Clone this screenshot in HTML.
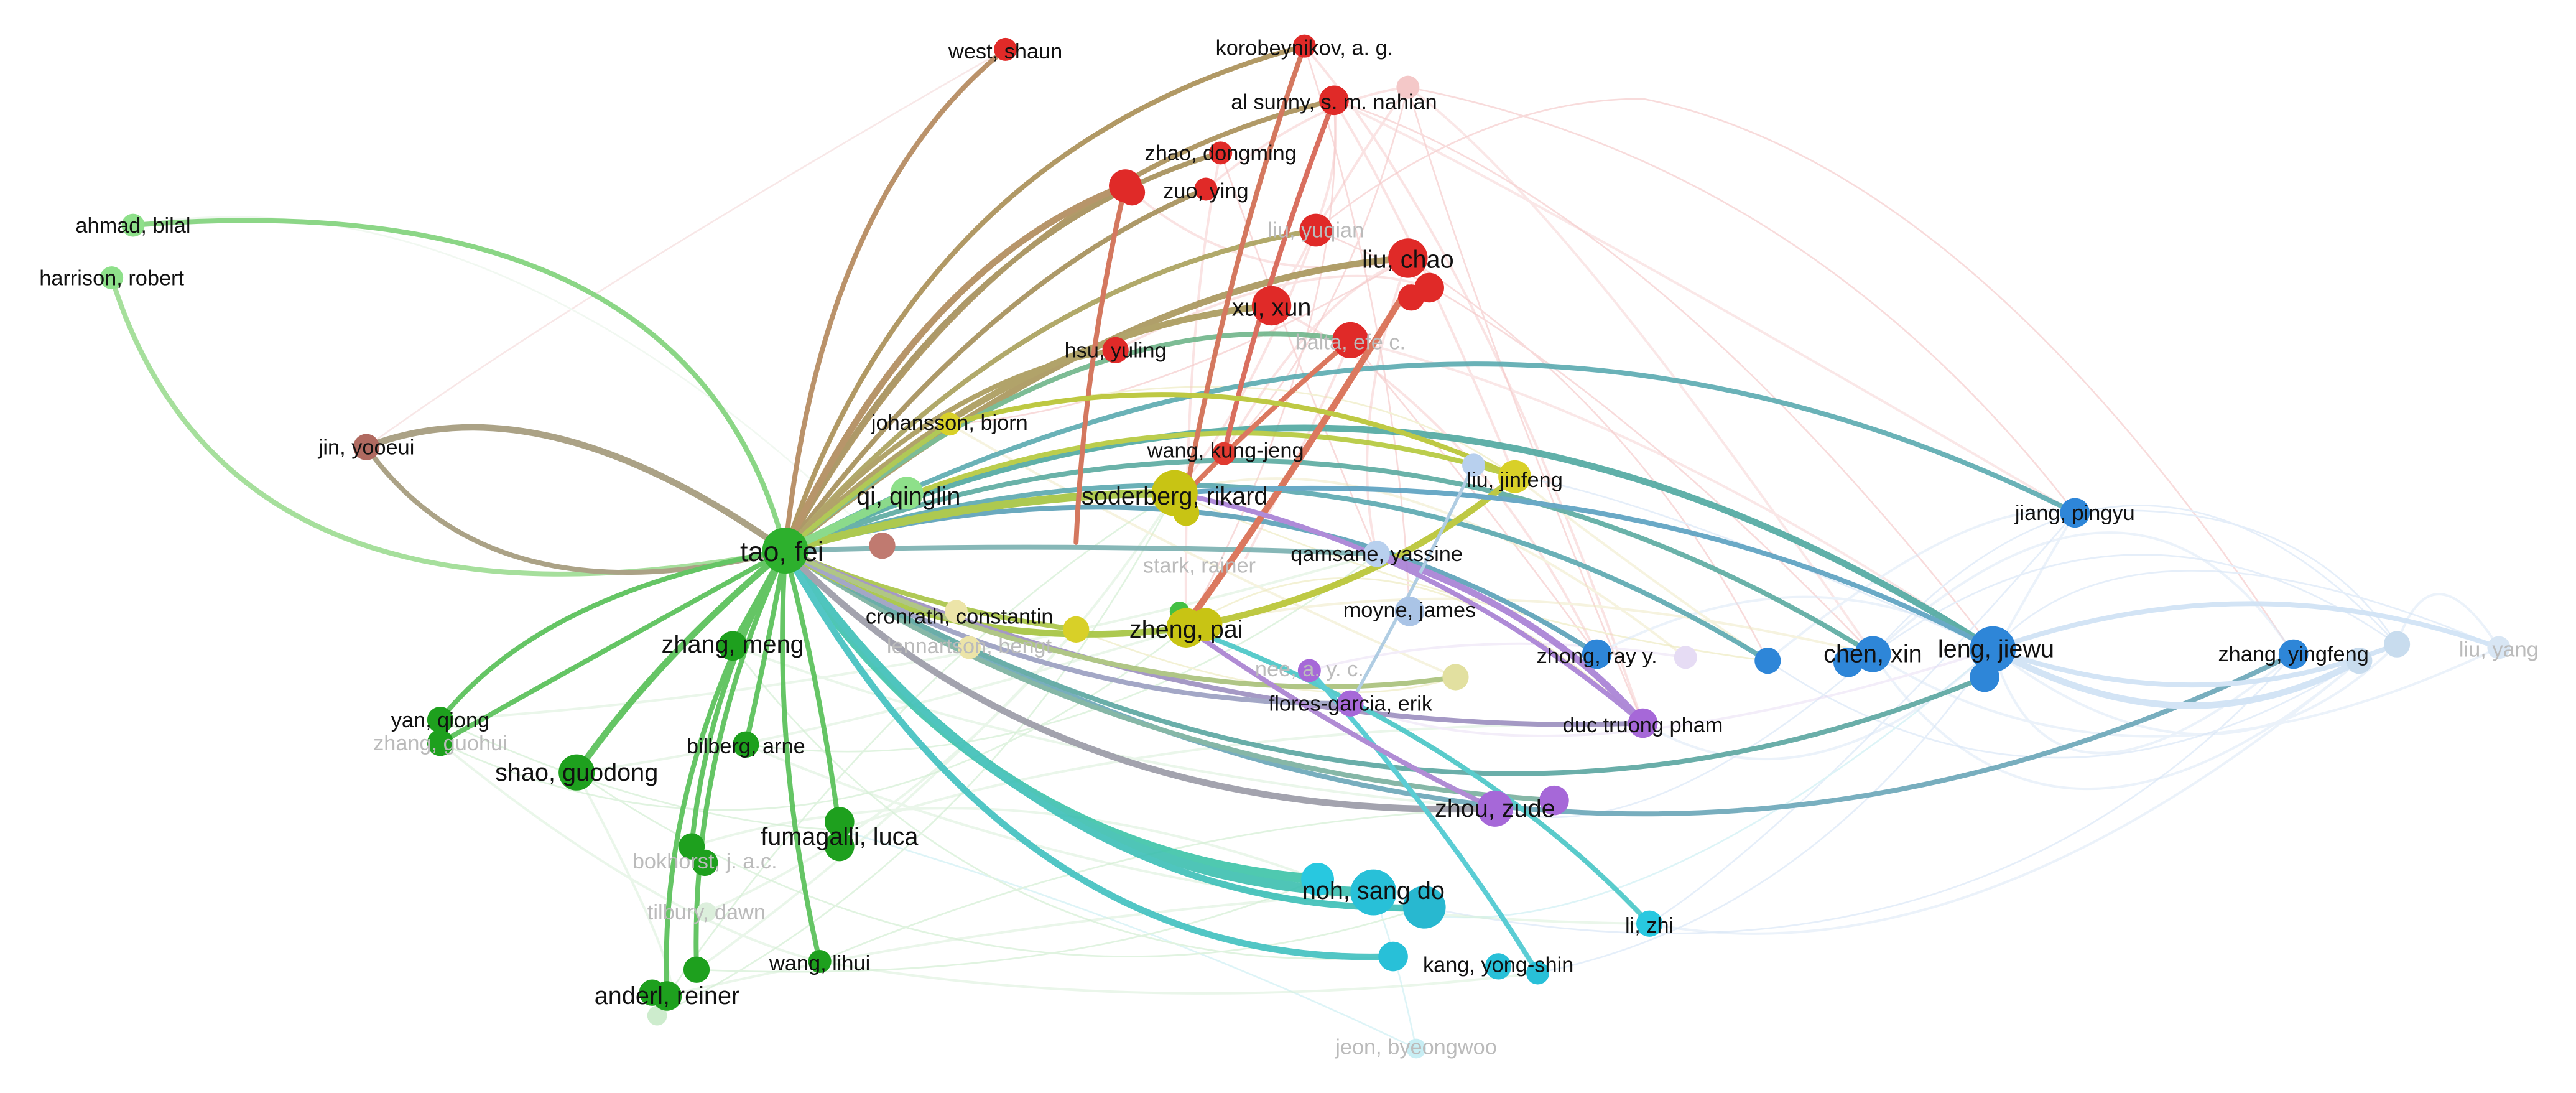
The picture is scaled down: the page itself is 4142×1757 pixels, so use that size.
<!DOCTYPE html>
<html><head><meta charset="utf-8"><style>
html,body{margin:0;padding:0;background:#fff;}
svg{display:block;}
text{font-family:"Liberation Sans","DejaVu Sans",sans-serif;text-anchor:middle;dominant-baseline:middle;fill:#111;}
.s{font-size:13px;}.m{font-size:15px;}.l{font-size:17px;}
.f{fill:#bbb;}
</style></head><body>
<svg width="4142" height="1757" viewBox="0 0 1568 665" xmlns="http://www.w3.org/2000/svg">
<g fill="none" stroke-width="1" opacity="0.6">
<path d="M857,53 Q900,200 1000,440" stroke="#f4c4c4"/>
<path d="M857,53 Q1100,100 1263,312" stroke="#f4c4c4"/>
<path d="M812,61 Q1000,120 1213,395" stroke="#f4c4c4"/>
<path d="M801,140 Q950,200 1140,398" stroke="#f4c4c4"/>
<path d="M857,157 Q1000,250 1076,402" stroke="#f4c4c4"/>
<path d="M794,28 Q850,200 858,372" stroke="#f4c4c4"/>
<path d="M812,61 Q820,200 722,382" stroke="#f4c4c4"/>
<path d="M743,93 Q800,250 838,337" stroke="#f4c4c4"/>
<path d="M857,53 Q820,200 745,276" stroke="#f4c4c4"/>
<path d="M822,207 Q900,300 972,398" stroke="#f4c4c4"/>
<path d="M857,157 Q700,250 578,258" stroke="#f4c4c4"/>
<path d="M801,140 Q900,60 1000,60 Q1200,100 1396,398" stroke="#f4c4c4"/>
<path d="M223,272 Q350,180 612,30" stroke="#f4d8d8"/>
<path d="M81,137 Q300,100 537,332" stroke="#e8f4e8"/>
<path d="M1213,395 Q1300,300 1521,394" stroke="#d4e4f6"/>
<path d="M1140,398 Q1300,280 1459,392" stroke="#d4e4f6"/>
<path d="M1076,402 Q1250,520 1436,402" stroke="#d4e4f6"/>
<path d="M1213,395 Q1100,560 936,592" stroke="#d4e4f6"/>
<path d="M1263,312 Q1100,500 1004,562" stroke="#d4e4f6"/>
<path d="M1396,398 Q1200,620 867,552" stroke="#d4e4f6"/>
<path d="M1459,392 Q1300,220 1140,398" stroke="#d4e4f6"/>
<path d="M1213,395 Q1000,300 922,290" stroke="#d4e4f6"/>
<path d="M1140,398 Q1000,520 910,492" stroke="#d4e4f6"/>
<path d="M1263,312 Q1400,300 1459,392" stroke="#d4e4f6"/>
<path d="M802,535 Q950,620 1213,395" stroke="#c8eef2"/>
<path d="M862,638 Q850,580 836,543" stroke="#c8eef2"/>
<path d="M862,638 Q700,560 511,505" stroke="#c8eef2"/>
<path d="M446,393 Q600,600 848,582" stroke="#cdeccd"/>
<path d="M351,470 Q600,640 867,552" stroke="#cdeccd"/>
<path d="M268,452 Q500,560 722,382" stroke="#cdeccd"/>
<path d="M400,618 Q600,520 715,300" stroke="#cdeccd"/>
<path d="M424,590 Q650,600 802,535" stroke="#cdeccd"/>
<path d="M454,453 Q650,480 838,337" stroke="#cdeccd"/>
<path d="M499,585 Q700,500 910,492" stroke="#cdeccd"/>
<path d="M406,606 Q550,400 715,300" stroke="#cdeccd"/>
<path d="M268,438 Q400,500 511,505" stroke="#cdeccd"/>
<path d="M722,382 Q850,300 1000,440" stroke="#ece8b8"/>
<path d="M715,300 Q900,380 1076,402" stroke="#ece8b8"/>
<path d="M578,258 Q800,200 922,290" stroke="#ece8b8"/>
<path d="M655,383 Q800,440 886,412" stroke="#ece8b8"/>
</g>
<g fill="none" stroke-width="1.5" opacity="0.5">
<path d="M812,61 Q860,140 922,290" stroke="#f6c8c8"/>
<path d="M794,28 Q900,150 1000,440" stroke="#f6c8c8"/>
<path d="M801,140 Q760,250 715,300" stroke="#f6c8c8"/>
<path d="M743,93 Q720,200 722,382" stroke="#f6c8c8"/>
<path d="M857,157 Q820,260 838,337" stroke="#f6c8c8"/>
<path d="M774,186 Q900,250 972,398" stroke="#f6c8c8"/>
<path d="M822,207 Q1000,250 1213,395" stroke="#f6d0d0"/>
<path d="M857,53 Q950,120 1140,398" stroke="#f6d0d0"/>
<path d="M812,61 Q900,100 1263,312" stroke="#f6d0d0"/>
<path d="M685,113 Q760,180 857,157" stroke="#f6c8c8"/>
<path d="M734,115 Q800,60 857,53" stroke="#f6c8c8"/>
<path d="M679,213 Q800,150 870,175" stroke="#f6c8c8"/>
<path d="M745,276 Q800,180 857,157" stroke="#f6c8c8"/>
<path d="M774,186 Q820,120 812,61" stroke="#f6c8c8"/>
<path d="M801,140 Q830,90 857,53" stroke="#f6c8c8"/>
<path d="M822,207 Q800,260 758,340" stroke="#f6c8c8"/>
<path d="M1213,395 Q1350,500 1459,392" stroke="#d8e6f6"/>
<path d="M1140,398 Q1300,500 1521,394" stroke="#d8e6f6"/>
<path d="M1263,312 Q1200,420 1208,412" stroke="#d8e6f6"/>
<path d="M1076,402 Q1200,300 1263,312" stroke="#d8e6f6"/>
<path d="M1396,398 Q1300,250 1140,398" stroke="#d8e6f6"/>
<path d="M1436,402 Q1200,600 1004,562" stroke="#d8e6f6"/>
<path d="M1213,395 Q1100,500 1000,440" stroke="#d8e6f6"/>
<path d="M972,398 Q1100,330 1213,395" stroke="#d8e6f6"/>
<path d="M1213,395 Q1250,520 1396,398" stroke="#d8e6f6"/>
<path d="M1459,392 Q1480,330 1521,394" stroke="#d8e6f6"/>
<path d="M1140,398 Q1250,560 1436,402" stroke="#d8e6f6"/>
<path d="M351,470 Q500,450 722,382" stroke="#d6efd6"/>
<path d="M268,438 Q550,420 838,337" stroke="#d6efd6"/>
<path d="M421,515 Q600,460 802,535" stroke="#d6efd6"/>
<path d="M511,505 Q700,440 1000,440" stroke="#d6efd6"/>
<path d="M454,453 Q700,560 1004,562" stroke="#d6efd6"/>
<path d="M446,393 Q650,470 910,492" stroke="#d6efd6"/>
<path d="M406,606 Q600,560 836,543" stroke="#d6efd6"/>
<path d="M499,585 Q700,620 936,592" stroke="#d6efd6"/>
<path d="M430,555 Q600,480 715,300" stroke="#d6efd6"/>
<path d="M424,590 Q550,500 655,383" stroke="#d6efd6"/>
<path d="M268,452 Q400,560 499,585" stroke="#d6efd6"/>
<path d="M351,470 Q420,600 406,606" stroke="#d6efd6"/>
<path d="M715,300 Q850,260 1026,400" stroke="#eee8c0"/>
<path d="M722,382 Q900,340 1140,398" stroke="#eee8c0"/>
<path d="M578,258 Q700,330 886,412" stroke="#eee8c0"/>
<path d="M922,290 Q1000,350 1076,402" stroke="#eee8c0"/>
<path d="M797,408 Q900,380 1026,400" stroke="#e8dcf4"/>
<path d="M822,428 Q950,480 1213,395" stroke="#e8dcf4"/>
</g>
<g fill="none" stroke-linecap="round" opacity="0.9">
<path d="M478,335 Q500,120 612,30" stroke="#b3875a" stroke-width="3"/>
<path d="M478,335 Q560,90 794,28" stroke="#a98e55" stroke-width="3"/>
<path d="M478,335 Q600,110 812,61" stroke="#a99058" stroke-width="3"/>
<path d="M478,335 Q580,140 743,93" stroke="#a58f58" stroke-width="3"/>
<path d="M478,335 Q560,160 685,113" stroke="#b08a5a" stroke-width="4"/>
<path d="M478,335 Q600,170 734,115" stroke="#a58f58" stroke-width="3"/>
<path d="M478,335 Q620,170 801,140" stroke="#a9a05a" stroke-width="3"/>
<path d="M478,335 Q680,170 857,157" stroke="#a8955a" stroke-width="4"/>
<path d="M478,335 Q620,200 774,186" stroke="#a99a5a" stroke-width="4"/>
<path d="M478,335 Q660,180 822,207" stroke="#6fb58a" stroke-width="3"/>
<path d="M478,335 Q570,230 679,213" stroke="#a99a5a" stroke-width="3"/>
<path d="M478,335 Q420,110 81,137" stroke="#7fd27a" stroke-width="3"/>
<path d="M478,335 Q140,400 68,169" stroke="#9ddc92" stroke-width="3"/>
<path d="M478,335 Q330,230 223,272" stroke="#a2997a" stroke-width="4"/>
<path d="M478,335 Q300,380 223,272" stroke="#a2997a" stroke-width="3"/>
<path d="M478,335 Q462,364 446,393" stroke="#55bf55" stroke-width="4"/>
<path d="M478,335 Q330,360 268,438" stroke="#55bf55" stroke-width="3"/>
<path d="M478,335 Q360,400 268,452" stroke="#55bf55" stroke-width="3"/>
<path d="M478,335 Q400,400 351,470" stroke="#55bf55" stroke-width="4"/>
<path d="M478,335 Q466,400 454,453" stroke="#55bf55" stroke-width="3"/>
<path d="M478,335 Q500,420 511,505" stroke="#55bf55" stroke-width="3"/>
<path d="M478,335 Q430,420 421,515" stroke="#55bf55" stroke-width="3"/>
<path d="M478,335 Q420,460 424,590" stroke="#55bf55" stroke-width="3"/>
<path d="M478,335 Q400,470 406,606" stroke="#55bf55" stroke-width="3"/>
<path d="M478,335 Q470,460 499,585" stroke="#55bf55" stroke-width="3"/>
<path d="M478,335 Q600,520 802,535" stroke="#3cc4a8" stroke-width="6"/>
<path d="M478,335 Q620,540 836,543" stroke="#3cbfb0" stroke-width="6"/>
<path d="M478,335 Q640,560 867,552" stroke="#3cbfb8" stroke-width="4"/>
<path d="M478,335 Q620,590 848,582" stroke="#40c0bf" stroke-width="4"/>
<path d="M478,335 Q850,160 1213,395" stroke="#4fa8a0" stroke-width="4"/>
<path d="M478,335 Q820,200 1140,398" stroke="#5aaaa0" stroke-width="3"/>
<path d="M478,335 Q950,620 1396,398" stroke="#6aa6b8" stroke-width="3"/>
<path d="M478,335 Q880,120 1263,312" stroke="#5aaab0" stroke-width="3"/>
<path d="M478,335 Q800,230 1076,402" stroke="#5aa8b0" stroke-width="3"/>
<path d="M478,335 Q760,260 972,398" stroke="#5aa0b8" stroke-width="3"/>
<path d="M478,335 Q640,500 910,492" stroke="#9a9aa6" stroke-width="4"/>
<path d="M478,335 Q680,470 946,487" stroke="#7ab09e" stroke-width="3"/>
<path d="M478,335 Q850,560 1208,412" stroke="#5aa6a0" stroke-width="3"/>
<path d="M478,335 Q600,300 715,300" stroke="#a5c43e" stroke-width="5"/>
<path d="M478,335 Q580,400 722,382" stroke="#a5c43e" stroke-width="4"/>
<path d="M478,335 Q700,220 922,290" stroke="#b4c83a" stroke-width="3"/>
<path d="M478,335 Q560,370 655,383" stroke="#a8c444" stroke-width="3"/>
<path d="M478,335 Q530,290 578,258" stroke="#a8c444" stroke-width="3"/>
<path d="M478,335 L552,300" stroke="#7fd77f" stroke-width="5"/>
<path d="M478,335 Q650,330 838,337" stroke="#7ab0b0" stroke-width="3"/>
<path d="M478,335 Q740,450 1000,440" stroke="#9c8fbf" stroke-width="3"/>
<path d="M478,335 Q640,430 822,428" stroke="#9a9ec0" stroke-width="3"/>
<path d="M478,335 Q700,440 886,412" stroke="#a8c07a" stroke-width="3"/>
<path d="M812,61 Q770,170 745,276" stroke="#d5604e" stroke-width="3"/>
<path d="M794,28 Q750,150 722,300" stroke="#d06a4e" stroke-width="3"/>
<path d="M685,113 Q660,220 655,330" stroke="#d06a4e" stroke-width="3"/>
<path d="M857,175 Q780,300 722,380" stroke="#d86a4e" stroke-width="4"/>
<path d="M822,207 Q760,260 722,300" stroke="#d86a4e" stroke-width="3"/>
<path d="M922,290 Q840,360 722,382" stroke="#b8c430" stroke-width="4"/>
<path d="M922,290 Q750,210 578,258" stroke="#b8c430" stroke-width="3"/>
<path d="M838,337 Q940,370 1000,440" stroke="#a77fd4" stroke-width="4"/>
<path d="M722,382 Q900,450 1004,562" stroke="#48c6c6" stroke-width="3"/>
<path d="M797,408 Q880,500 936,592" stroke="#4ac8d0" stroke-width="3"/>
<path d="M715,300 Q1000,280 1213,395" stroke="#5aa0c0" stroke-width="3"/>
<path d="M897,283 Q860,360 822,428" stroke="#a8c8e0" stroke-width="2"/>
<path d="M1213,395 Q1370,340 1521,394" stroke="#cfe2f5" stroke-width="3"/>
<path d="M1213,395 Q1340,440 1459,392" stroke="#cfe2f5" stroke-width="3"/>
<path d="M1213,395 Q1330,460 1436,402" stroke="#cfe2f5" stroke-width="4"/>
<path d="M715,300 Q870,330 1000,440" stroke="#a77fd4" stroke-width="3"/>
<path d="M722,382 Q820,450 910,492" stroke="#a880d0" stroke-width="3"/>
</g>
<g>
<circle cx="478" cy="335" r="14" fill="#2db02d"/>
<circle cx="552" cy="300" r="10" fill="#8ee08a"/>
<circle cx="722" cy="312" r="8" fill="#c8c414"/>
<circle cx="715" cy="300" r="14" fill="#c8c414"/>
<circle cx="718" cy="372" r="6" fill="#44c044"/>
<circle cx="734" cy="380" r="10" fill="#c8c414"/>
<circle cx="722" cy="382" r="12" fill="#c8c414"/>
<circle cx="578" cy="258" r="7" fill="#d8d028"/>
<circle cx="655" cy="383" r="8" fill="#d8d028"/>
<circle cx="582" cy="372" r="7" fill="#ece4a8"/>
<circle cx="590" cy="394" r="7" fill="#ece4a8"/>
<circle cx="537" cy="332" r="8" fill="#c07a70"/>
<circle cx="745" cy="276" r="7" fill="#e03a30"/>
<circle cx="922" cy="290" r="10" fill="#d8d028"/>
<circle cx="897" cy="283" r="7" fill="#b8d0ee"/>
<circle cx="838" cy="337" r="8" fill="#b8d0ee"/>
<circle cx="858" cy="372" r="9" fill="#aac4e6"/>
<circle cx="972" cy="398" r="9" fill="#2e86d8"/>
<circle cx="1026" cy="400" r="7" fill="#e6dcf4"/>
<circle cx="1076" cy="402" r="8" fill="#2e86d8"/>
<circle cx="1125" cy="403" r="9" fill="#2e86d8"/>
<circle cx="1140" cy="398" r="11" fill="#2e86d8"/>
<circle cx="1208" cy="412" r="9" fill="#2e86d8"/>
<circle cx="1213" cy="395" r="14" fill="#2e86d8"/>
<circle cx="1263" cy="312" r="9" fill="#2e86d8"/>
<circle cx="1396" cy="398" r="9" fill="#2e86d8"/>
<circle cx="1436" cy="402" r="8" fill="#c8dcee"/>
<circle cx="1459" cy="392" r="8" fill="#c8dcee"/>
<circle cx="1521" cy="394" r="7" fill="#d8e6f4"/>
<circle cx="822" cy="428" r="8" fill="#a668d8"/>
<circle cx="797" cy="408" r="7" fill="#a668d8"/>
<circle cx="886" cy="412" r="8" fill="#e2e0a0"/>
<circle cx="1000" cy="440" r="9" fill="#a668d8"/>
<circle cx="910" cy="492" r="11" fill="#a668d8"/>
<circle cx="946" cy="487" r="9" fill="#a668d8"/>
<circle cx="802" cy="535" r="10" fill="#28c8e0"/>
<circle cx="867" cy="552" r="13" fill="#28b8d0"/>
<circle cx="836" cy="543" r="14" fill="#28c0d8"/>
<circle cx="1004" cy="562" r="8" fill="#28c8e0"/>
<circle cx="848" cy="582" r="9" fill="#28c0d8"/>
<circle cx="912" cy="588" r="8" fill="#28c0d8"/>
<circle cx="936" cy="592" r="7" fill="#28c0d8"/>
<circle cx="862" cy="638" r="6" fill="#c8eef4"/>
<circle cx="612" cy="30" r="7" fill="#e02a28"/>
<circle cx="794" cy="28" r="7" fill="#e02a28"/>
<circle cx="857" cy="53" r="7" fill="#f4c8c8"/>
<circle cx="812" cy="61" r="9" fill="#e02a28"/>
<circle cx="743" cy="93" r="7" fill="#e02a28"/>
<circle cx="685" cy="113" r="10" fill="#e02a28"/>
<circle cx="689" cy="117" r="8" fill="#e02a28"/>
<circle cx="734" cy="115" r="7" fill="#e02a28"/>
<circle cx="801" cy="140" r="10" fill="#e02a28"/>
<circle cx="870" cy="175" r="9" fill="#e02a28"/>
<circle cx="859" cy="181" r="8" fill="#e02a28"/>
<circle cx="857" cy="157" r="12" fill="#e02a28"/>
<circle cx="774" cy="186" r="12" fill="#e02a28"/>
<circle cx="822" cy="207" r="11" fill="#e02a28"/>
<circle cx="679" cy="213" r="8" fill="#e02a28"/>
<circle cx="81" cy="137" r="7" fill="#8ee08a"/>
<circle cx="68" cy="169" r="7" fill="#8ee08a"/>
<circle cx="223" cy="272" r="8" fill="#b06a60"/>
<circle cx="446" cy="393" r="9" fill="#1ea01e"/>
<circle cx="268" cy="438" r="8" fill="#1ea01e"/>
<circle cx="268" cy="452" r="8" fill="#1ea01e"/>
<circle cx="351" cy="470" r="11" fill="#1ea01e"/>
<circle cx="454" cy="453" r="8" fill="#1ea01e"/>
<circle cx="511" cy="500" r="9" fill="#1ea01e"/>
<circle cx="511" cy="515" r="9" fill="#1ea01e"/>
<circle cx="421" cy="515" r="8" fill="#1ea01e"/>
<circle cx="429" cy="525" r="8" fill="#1ea01e"/>
<circle cx="430" cy="555" r="6" fill="#dcefdc"/>
<circle cx="424" cy="590" r="8" fill="#1ea01e"/>
<circle cx="400" cy="618" r="6" fill="#cdeccd"/>
<circle cx="397" cy="604" r="8" fill="#1ea01e"/>
<circle cx="406" cy="606" r="9" fill="#1ea01e"/>
<circle cx="499" cy="585" r="7" fill="#1ea01e"/>
</g>
<g>
<text class="l" x="476" y="337">tao, fei</text>
<text class="m" x="553" y="303">qi, qinglin</text>
<text class="m" x="715" y="303">soderberg, rikard</text>
<text class="m" x="722" y="384">zheng, pai</text>
<text class="s" x="578" y="258">johansson, bjorn</text>
<text class="s" x="584" y="376">cronrath, constantin</text>
<text class="s f" x="590" y="394">lennartson, bengt</text>
<text class="s f" x="730" y="345">stark, rainer</text>
<text class="s" x="746" y="275">wang, kung-jeng</text>
<text class="s" x="922" y="293">liu, jinfeng</text>
<text class="s" x="838" y="338">qamsane, yassine</text>
<text class="s" x="858" y="372">moyne, james</text>
<text class="s" x="972" y="400">zhong, ray y.</text>
<text class="m" x="1140" y="399">chen, xin</text>
<text class="m" x="1215" y="396">leng, jiewu</text>
<text class="s" x="1263" y="313">jiang, pingyu</text>
<text class="s" x="1396" y="399">zhang, yingfeng</text>
<text class="s f" x="1521" y="396">liu, yang</text>
<text class="s f" x="797" y="408">nee, a. y. c.</text>
<text class="s" x="822" y="429">flores-garcia, erik</text>
<text class="s" x="1000" y="442">duc truong pham</text>
<text class="m" x="910" y="493">zhou, zude</text>
<text class="m" x="836" y="543">noh, sang do</text>
<text class="s" x="1004" y="564">li, zhi</text>
<text class="s" x="912" y="588">kang, yong-shin</text>
<text class="s f" x="862" y="638">jeon, byeongwoo</text>
<text class="s" x="612" y="32">west, shaun</text>
<text class="s" x="794" y="30">korobeynikov, a. g.</text>
<text class="s" x="812" y="63">al sunny, s. m. nahian</text>
<text class="s" x="743" y="94">zhao, dongming</text>
<text class="s" x="734" y="117">zuo, ying</text>
<text class="s f" x="801" y="141">liu, yuqian</text>
<text class="m" x="857" y="159">liu, chao</text>
<text class="m" x="774" y="188">xu, xun</text>
<text class="s f" x="822" y="209">balta, efe c.</text>
<text class="s" x="679" y="214">hsu, yuling</text>
<text class="s" x="81" y="138">ahmad, bilal</text>
<text class="s" x="68" y="170">harrison, robert</text>
<text class="s" x="223" y="273">jin, yooeui</text>
<text class="m" x="446" y="393">zhang, meng</text>
<text class="s" x="268" y="439">yan, qiong</text>
<text class="s f" x="268" y="453">zhang, guohui</text>
<text class="m" x="351" y="471">shao, guodong</text>
<text class="s" x="454" y="455">bilberg, arne</text>
<text class="m" x="511" y="510">fumagalli, luca</text>
<text class="s f" x="429" y="525">bokhorst, j. a.c.</text>
<text class="s f" x="430" y="556">tilbury, dawn</text>
<text class="m" x="406" y="607">anderl, reiner</text>
<text class="s" x="499" y="587">wang, lihui</text>
</g>
</svg>
</body></html>
